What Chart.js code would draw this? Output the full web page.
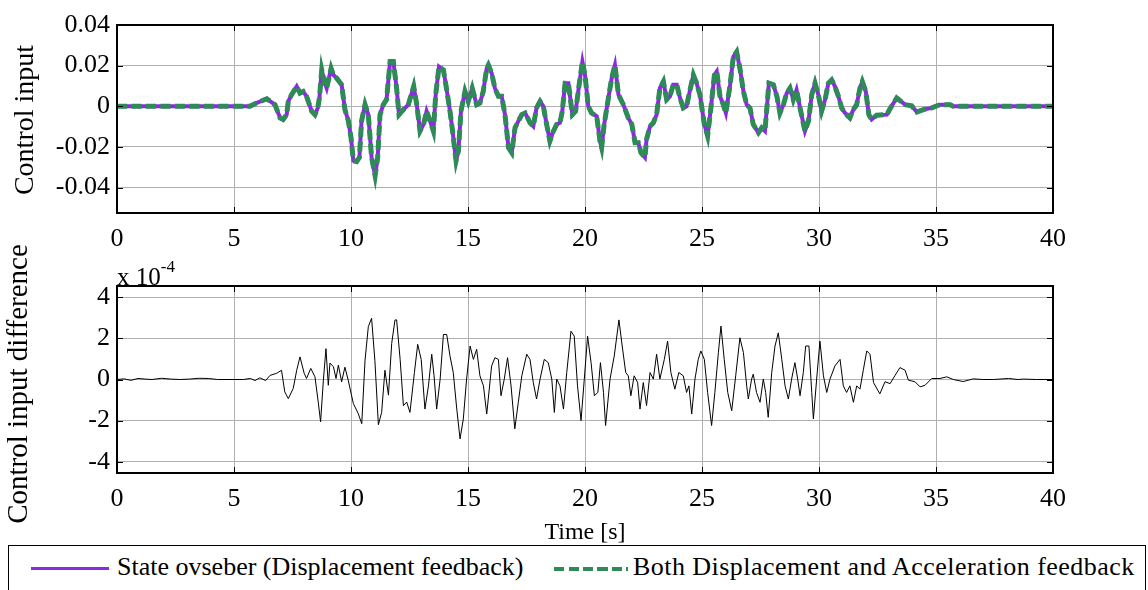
<!DOCTYPE html>
<html>
<head>
<meta charset="utf-8">
<script src="https://cdn.jsdelivr.net/npm/chart.js@4.4.1/dist/chart.umd.min.js"></script>
<style>
  body { margin: 0; background: #fff; }
  #page { position: relative; width: 1148px; height: 590px; overflow: hidden; font-family: "Liberation Serif", "Times New Roman", serif; }
  canvas { position: absolute; left: 0; }
  #topChart { top: 0; }
  #bottomChart { top: 262px; }
  .ytitle { position: absolute; font-size: 28px; line-height: 28px; white-space: nowrap; transform: translate(-50%, -50%) rotate(-90deg); }
  #yt1 { left: 24px; top: 120px; }
  #yt2 { left: 17px; top: 384px; font-size: 29px; }
  #expo { position: absolute; left: 117px; top: 258px; font-size: 25px; line-height: 25px; }
  #expo sup { font-size: 17px; position: relative; top: -4px; }
  #legend { position: absolute; left: 8px; top: 545px; width: 1136px; height: 60px; border: 1px solid #000; }
  .sample { position: absolute; top: 21px; height: 3px; }
  #s1 { left: 22px; width: 78px; background: #8a2be2; }
  #s2 { left: 545px; width: 74px; height: 4px; background: repeating-linear-gradient(90deg, #2e8b57 0 10px, transparent 10px 14.5px); }
  .lbl { position: absolute; top: 6px; font-size: 26px; line-height: 30px; white-space: nowrap; }
  #l1 { left: 108px; }
  #l2 { left: 624px; letter-spacing: 0.45px; }
</style>
</head>
<body>
<div id="page">
  <canvas id="topChart" width="1148" height="262"></canvas>
  <canvas id="bottomChart" width="1148" height="283"></canvas>
  <div class="ytitle" id="yt1">Control input</div>
  <div class="ytitle" id="yt2">Control input difference</div>
  <div id="expo">x 10<sup>-4</sup></div>
  <div id="legend">
    <div class="sample" id="s1"></div><span class="lbl" id="l1">State ovseber (Displacement feedback)</span>
    <div class="sample" id="s2"></div><span class="lbl" id="l2">Both Displacement and Acceleration feedback</span>
  </div>
</div>
<script>
// time axis
const xTicks = [0, 5, 10, 15, 20, 25, 30, 35, 40];

// control input (top plot)
const tU = [0, 5.68, 5.9, 6.4, 6.75, 6.97, 7.1, 7.25, 7.32, 7.46, 7.68, 7.82, 7.96, 8.1, 8.32, 8.46, 8.58, 8.65, 8.75, 8.86, 8.96, 9.15, 9.25, 9.39, 9.6, 9.74, 9.89, 10.0, 10.1, 10.24, 10.36, 10.45, 10.6, 10.74, 10.88, 11.03, 11.14, 11.24, 11.38, 11.52, 11.67, 11.81, 11.95, 12.05, 12.24, 12.45, 12.68, 12.81, 12.95, 13.1, 13.23, 13.38, 13.52, 13.62, 13.76, 13.95, 14.1, 14.23, 14.34, 14.49, 14.59, 14.7, 14.87, 15.01, 15.18, 15.37, 15.51, 15.65, 15.8, 15.87, 16.01, 16.15, 16.3, 16.44, 16.58, 16.73, 16.87, 17.01, 17.15, 17.3, 17.44, 17.65, 17.79, 17.93, 18.08, 18.22, 18.36, 18.5, 18.65, 18.79, 18.93, 19.03, 19.15, 19.29, 19.46, 19.6, 19.74, 19.89, 20.0, 20.14, 20.28, 20.5, 20.64, 20.71, 20.82, 21.0, 21.14, 21.28, 21.43, 21.64, 21.85, 22.0, 22.14, 22.28, 22.39, 22.56, 22.63, 22.78, 22.92, 23.06, 23.2, 23.35, 23.49, 23.63, 23.77, 23.92, 24.06, 24.2, 24.34, 24.49, 24.63, 24.77, 24.91, 25.1, 25.24, 25.38, 25.53, 25.63, 25.77, 25.91, 26.02, 26.2, 26.34, 26.48, 26.62, 26.77, 26.91, 27.05, 27.19, 27.41, 27.55, 27.69, 27.76, 27.86, 28.05, 28.2, 28.33, 28.48, 28.62, 28.76, 28.9, 29.04, 29.19, 29.4, 29.55, 29.69, 29.83, 29.97, 30.11, 30.26, 30.4, 30.54, 30.68, 30.83, 30.97, 31.11, 31.32, 31.47, 31.61, 31.75, 31.85, 32.0, 32.13, 32.25, 32.46, 32.9, 33.04, 33.32, 33.68, 33.96, 34.18, 34.46, 34.82, 35.17, 35.6, 35.74, 40];
const uState = [0, 0, 0.0013, 0.0037, 0.0008, -0.0057, -0.0065, -0.0041, 0.0024, 0.0057, 0.0098, 0.0065, 0.0073, 0.0049, -0.0024, -0.0041, -0.0008, 0.0041, 0.0179, 0.0122, 0.0089, 0.0187, 0.0154, 0.0138, 0.0106, -0.0016, -0.0073, -0.0154, -0.0268, -0.0272, -0.0252, -0.0073, 0.0008, -0.0041, -0.0252, -0.0341, -0.0252, -0.0041, 0.0008, 0.0033, 0.022, 0.022, 0.0089, -0.0041, -0.0016, 0.0008, 0.0098, 0.0008, -0.0122, -0.0089, -0.0024, -0.0073, -0.0122, 0.0057, 0.0195, 0.0179, 0.0073, -0.0024, -0.0122, -0.0268, -0.022, -0.0024, 0.0073, 0.0024, 0.0089, 0.0008, 0.0016, 0.0073, 0.0187, 0.0203, 0.0163, 0.0089, 0.0049, 0.0049, -0.0041, -0.0203, -0.0228, -0.0106, -0.0073, -0.0041, -0.0033, -0.0081, -0.0098, -0.0008, 0.0024, 0, -0.0089, -0.0171, -0.0122, -0.0089, -0.0081, -0.0024, 0.0114, 0.0114, -0.0041, -0.0024, 0.0098, 0.022, 0.0154, 0, -0.0033, -0.0049, -0.0171, -0.0203, -0.0089, 0.0041, 0.0138, 0.0203, 0.0057, 0.0008, -0.0057, -0.0089, -0.0179, -0.0179, -0.0228, -0.0252, -0.0163, -0.0098, -0.0081, -0.0041, 0.0089, 0.0122, 0.0033, 0.0049, 0.0106, 0.0106, 0.0041, -0.0008, 0, 0.0081, 0.0154, 0.0114, 0.0057, -0.0089, -0.0146, -0.0008, 0.0154, 0.0171, 0.0049, 0.0008, -0.0033, 0.0106, 0.0244, 0.0268, 0.0187, 0.0073, 0.0008, -0.0008, -0.0089, -0.013, -0.0106, -0.0122, -0.0024, 0.0114, 0.0106, 0.0049, -0.0033, 0.0008, 0.0065, 0.0089, 0.0033, 0.0081, -0.0008, -0.0122, -0.0073, 0.0057, 0.0114, 0.0057, -0.0024, 0.0033, 0.0114, 0.013, 0.0098, 0.0049, -0.0008, -0.0033, -0.0057, -0.0016, 0.0008, 0.0089, 0.0122, 0.0073, -0.0041, -0.0065, -0.0044, -0.0041, -0.0011, 0.0041, 0.0008, 0.0002, -0.0028, -0.0016, -0.0008, 0.0008, 0.0008, 0, 0];
// both feedbacks give the same curve at this scale
const uBoth = [0, 0, 0.0013, 0.0037, 0.0008, -0.0057, -0.0065, -0.0041, 0.0024, 0.0057, 0.0098, 0.0065, 0.0073, 0.0049, -0.0024, -0.0041, -0.0008, 0.0041, 0.0179, 0.0122, 0.0089, 0.0187, 0.0154, 0.0138, 0.0106, -0.0016, -0.0073, -0.0154, -0.0268, -0.0272, -0.0252, -0.0073, 0.0008, -0.0041, -0.0252, -0.0341, -0.0252, -0.0041, 0.0008, 0.0033, 0.022, 0.022, 0.0089, -0.0041, -0.0016, 0.0008, 0.0098, 0.0008, -0.0122, -0.0089, -0.0024, -0.0073, -0.0122, 0.0057, 0.0195, 0.0179, 0.0073, -0.0024, -0.0122, -0.0268, -0.022, -0.0024, 0.0073, 0.0024, 0.0089, 0.0008, 0.0016, 0.0073, 0.0187, 0.0203, 0.0163, 0.0089, 0.0049, 0.0049, -0.0041, -0.0203, -0.0228, -0.0106, -0.0073, -0.0041, -0.0033, -0.0081, -0.0098, -0.0008, 0.0024, 0, -0.0089, -0.0171, -0.0122, -0.0089, -0.0081, -0.0024, 0.0114, 0.0114, -0.0041, -0.0024, 0.0098, 0.022, 0.0154, 0, -0.0033, -0.0049, -0.0171, -0.0203, -0.0089, 0.0041, 0.0138, 0.0203, 0.0057, 0.0008, -0.0057, -0.0089, -0.0179, -0.0179, -0.0228, -0.0252, -0.0163, -0.0098, -0.0081, -0.0041, 0.0089, 0.0122, 0.0033, 0.0049, 0.0106, 0.0106, 0.0041, -0.0008, 0, 0.0081, 0.0154, 0.0114, 0.0057, -0.0089, -0.0146, -0.0008, 0.0154, 0.0171, 0.0049, 0.0008, -0.0033, 0.0106, 0.0244, 0.0268, 0.0187, 0.0073, 0.0008, -0.0008, -0.0089, -0.013, -0.0106, -0.0122, -0.0024, 0.0114, 0.0106, 0.0049, -0.0033, 0.0008, 0.0065, 0.0089, 0.0033, 0.0081, -0.0008, -0.0122, -0.0073, 0.0057, 0.0114, 0.0057, -0.0024, 0.0033, 0.0114, 0.013, 0.0098, 0.0049, -0.0008, -0.0033, -0.0057, -0.0016, 0.0008, 0.0089, 0.0122, 0.0073, -0.0041, -0.0065, -0.0044, -0.0041, -0.0011, 0.0041, 0.0008, 0.0002, -0.0028, -0.0016, -0.0008, 0.0008, 0.0008, 0, 0];
const uTicks = [-0.04, -0.02, 0, 0.02, 0.04];

// control input difference (bottom plot), in units of 1e-4
const tD = [0, 0.3, 0.6, 0.9, 1.2, 1.5, 1.9, 2.3, 2.7, 3.1, 3.5, 3.9, 4.3, 5.0, 5.4, 5.7, 5.9, 6.1, 6.35, 6.54, 6.82, 7.03, 7.17, 7.32, 7.53, 7.68, 7.82, 8.0, 8.1, 8.28, 8.46, 8.6, 8.7, 8.82, 8.93, 9.03, 9.1, 9.25, 9.36, 9.46, 9.6, 9.74, 9.88, 10.1, 10.31, 10.46, 10.6, 10.74, 10.88, 11.02, 11.17, 11.31, 11.45, 11.6, 11.74, 11.88, 11.95, 12.1, 12.24, 12.38, 12.52, 12.71, 12.85, 13.0, 13.16, 13.31, 13.45, 13.55, 13.66, 13.81, 13.95, 14.09, 14.23, 14.37, 14.52, 14.66, 14.8, 14.94, 15.09, 15.23, 15.37, 15.51, 15.66, 15.8, 16.01, 16.15, 16.3, 16.41, 16.55, 16.69, 16.84, 17.0, 17.15, 17.3, 17.51, 17.65, 17.79, 17.93, 18.08, 18.26, 18.43, 18.58, 18.69, 18.79, 18.93, 19.08, 19.22, 19.4, 19.54, 19.68, 19.83, 19.97, 20.11, 20.26, 20.4, 20.55, 20.66, 20.79, 20.88, 21.07, 21.25, 21.45, 21.59, 21.74, 21.85, 21.96, 22.1, 22.25, 22.35, 22.49, 22.63, 22.78, 22.92, 23.06, 23.2, 23.39, 23.53, 23.67, 23.84, 24.01, 24.2, 24.34, 24.44, 24.56, 24.7, 24.84, 24.95, 25.1, 25.24, 25.41, 25.55, 25.7, 25.81, 25.95, 26.1, 26.27, 26.44, 26.62, 26.77, 26.91, 26.98, 27.12, 27.19, 27.33, 27.48, 27.62, 27.72, 27.83, 27.98, 28.12, 28.26, 28.41, 28.55, 28.69, 28.83, 28.97, 29.09, 29.19, 29.33, 29.43, 29.57, 29.69, 29.76, 29.9, 30.04, 30.19, 30.33, 30.47, 30.68, 30.9, 31.04, 31.18, 31.32, 31.47, 31.61, 31.75, 31.9, 32.04, 32.18, 32.33, 32.6, 32.82, 33.04, 33.25, 33.46, 33.68, 33.82, 34.1, 34.32, 34.53, 34.82, 35.17, 35.46, 35.74, 36.16, 36.59, 37.0, 37.45, 38.1, 38.5, 38.74, 39.3, 40];
const dU = [0, 0.03, -0.04, 0.05, 0.02, 0, 0.06, 0.02, 0, 0.02, 0.06, 0.05, 0, 0, 0, 0.05, -0.05, 0.08, -0.05, 0.2, 0.3, 0.45, -0.6, -0.93, -0.44, 0.45, 1.1, 0.3, 0.05, 0.54, 0.13, -1.1, -2.06, -0.03, 1.5, -0.28, 0.8, 0.62, 0.05, 0.7, -0.11, 0.6, -0.03, -1.17, -1.66, -2.15, 0.94, 2.57, 2.98, 0.94, -2.2, -1.6, 0.45, -0.76, 1.76, 2.9, 2.9, 0.98, -1.27, -1.1, -1.6, 0.34, 1.71, 0.98, -1.44, -0.31, 1.23, 0.18, -1.44, 0.02, 2.19, 2.19, 1.15, 0.34, -1.44, -2.89, -1.92, 0.02, 1.63, 0.98, 1.47, 0.18, -0.31, -1.68, 0.66, 1.06, 0.98, -0.79, 0.02, 1.06, -0.31, -2.4, -1.11, 0.18, 1.23, 0.98, -0.15, -0.95, 0.02, 0.98, 0.82, 0.02, -1.6, 0.02, -0.31, -1.44, 0.34, 2.35, 2.11, -0.31, -2.0, 0.02, 2.11, 0.82, -0.79, -0.63, 0.82, -0.63, -2.24, 0.02, 1.15, 2.9, 1.63, 0.34, 0.18, -0.79, 0.18, -0.15, -1.44, -0.15, -1.27, 0.34, 0.02, 1.23, 0.02, 0.98, 1.87, 0.34, -0.47, 0.34, 0.18, -0.63, -0.31, -1.68, 0.02, 0.98, 1.39, 0.98, -0.63, -2.24, -0.63, 1.31, 2.6, 0.98, -0.63, -1.52, 0.18, 2.03, 1.31, -0.31, -0.95, 0.02, 0.26, -0.63, -1.11, 0.02, -0.63, -1.84, 0.34, 1.63, 2.27, 0.98, -0.31, -0.95, 0.02, 0.82, 0.02, -0.79, 0.34, 1.63, 1.63, -0.63, -1.92, 0.02, 1.87, 0.18, -0.63, 0.02, 0.66, 0.98, -0.31, -0.63, -0.31, -1.11, -0.31, -0.47, 0.5, 1.39, 1.23, -0.15, -0.7, -0.11, -0.2, 0.2, 0.58, 0.45, -0.03, -0.11, -0.36, -0.28, 0.05, 0.05, 0.13, 0, -0.1, 0.03, 0, 0, 0.05, 0, 0.02, 0, 0];
const dTicks = [-4, -2, 0, 2, 4];

const toXY = (xs, ys) => xs.map((x, i) => ({ x: x, y: ys[i] }));

const serif = "'Liberation Serif', 'Times New Roman', serif";
const gridColor = "#b0b0b0";

// box round the plot area + small inward ticks, like matlab axes
const framePlugin = {
  id: "frame",
  afterDraw(chart) {
    const { ctx, chartArea: a, scales } = chart;
    ctx.save();
    ctx.strokeStyle = "#000";
    ctx.lineWidth = 1;
    scales.x.ticks.forEach((t) => {
      const x = Math.round(scales.x.getPixelForValue(t.value)) + 0.5;
      ctx.beginPath();
      ctx.moveTo(x, a.top); ctx.lineTo(x, a.top + 6);
      ctx.moveTo(x, a.bottom); ctx.lineTo(x, a.bottom - 6);
      ctx.stroke();
    });
    scales.y.ticks.forEach((t) => {
      const y = Math.round(scales.y.getPixelForValue(t.value)) + 0.5;
      ctx.beginPath();
      ctx.moveTo(a.left, y); ctx.lineTo(a.left + 6, y);
      ctx.moveTo(a.right, y); ctx.lineTo(a.right - 6, y);
      ctx.stroke();
    });
    ctx.lineWidth = 2;
    ctx.strokeRect(a.left, a.top, a.right - a.left, a.bottom - a.top);
    ctx.restore();
  },
};

const makeOptions = (cfg) => ({
  responsive: false,
  animation: false,
  layout: { padding: { top: cfg.padTop, right: 95, left: 0, bottom: 0 } },
  plugins: { legend: { display: false }, tooltip: { enabled: false } },
  elements: { point: { radius: 0 } },
  scales: {
    x: {
      type: "linear",
      min: 0,
      max: 40,
      afterFit: (s) => { s.height = cfg.xHeight; },
      afterBuildTicks: (s) => { s.ticks = xTicks.map((v) => ({ value: v })); },
      grid: { color: gridColor, drawTicks: false },
      border: { display: false },
      ticks: { color: "#000", padding: 11, maxRotation: 0, font: { family: serif, size: 26 } },
      title: cfg.xTitle
        ? { display: true, text: cfg.xTitle, color: "#000", padding: { top: 0, bottom: 0 }, font: { family: serif, size: 24, lineHeight: 1 } }
        : { display: false },
    },
    y: {
      min: cfg.yMin,
      max: cfg.yMax,
      afterFit: (s) => { s.width = 117; },
      afterBuildTicks: (s) => { s.ticks = cfg.yTicks.map((v) => ({ value: v })); },
      grid: { color: gridColor, drawTicks: false },
      border: { display: false },
      ticks: { color: "#000", padding: 7, font: { family: serif, size: 26 }, callback: cfg.fmt },
    },
  },
});

new Chart(document.getElementById("topChart"), {
  type: "line",
  data: {
    datasets: [
      { label: "State ovseber (Displacement feedback)", data: toXY(tU, uState), borderColor: "#8a2be2", borderWidth: 4, tension: 0, order: 2 },
      { label: "Both Displacement and Acceleration feedback", data: toXY(tU, uBoth), borderColor: "#2e8b57", borderWidth: 5, borderDash: [10, 4.5], tension: 0, order: 1 },
    ],
  },
  options: makeOptions({
    padTop: 25, xHeight: 49, yMin: -0.0525, yMax: 0.04, yTicks: uTicks,
    fmt: (v) => (v === 0 ? "0" : v.toFixed(2)),
  }),
  plugins: [framePlugin],
});

new Chart(document.getElementById("bottomChart"), {
  type: "line",
  data: {
    datasets: [
      { label: "Control input difference", data: toXY(tD, dU), borderColor: "#000", borderWidth: 1, tension: 0 },
    ],
  },
  options: makeOptions({
    padTop: 24, xHeight: 72, yMin: -4.55, yMax: 4.55, yTicks: dTicks, xTitle: "Time [s]",
    fmt: (v) => String(v),
  }),
  plugins: [framePlugin],
});
</script>
</body>
</html>
